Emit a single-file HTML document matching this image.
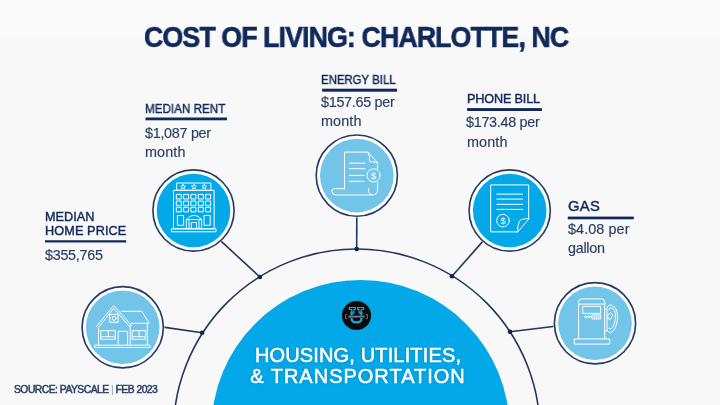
<!DOCTYPE html>
<html>
<head>
<meta charset="utf-8">
<style>
html,body{margin:0;padding:0;}
body{width:720px;height:405px;overflow:hidden;background:#fafafa;position:relative;font-family:"Liberation Sans",Arial,sans-serif;}
svg.g{position:absolute;left:0;top:0;}
.t{position:absolute;white-space:nowrap;line-height:1;will-change:transform;}
</style>
</head>
<body>
<div style="position:absolute;left:0;top:37px;width:720px;height:368px;background-color:#f8f8f8;"></div>
<svg class="g" width="720" height="405" viewBox="0 0 720 405">
<circle cx="360.5" cy="429" r="149" fill="#03a8e8"/>
<circle cx="356.7" cy="432.3" r="183.3" fill="none" stroke="#213760" stroke-width="1.6"/>
<g stroke="#213760" stroke-width="1.6" fill="none"><line x1="161.5" y1="326.9" x2="202.1" y2="332.8"/><line x1="220.5" y1="240.6" x2="259.9" y2="277.0"/><line x1="356.8" y1="215.5" x2="356.7" y2="249"/><line x1="483.2" y1="240.9" x2="452.0" y2="276.3"/><line x1="555.3" y1="326.2" x2="510.0" y2="331.8"/></g>
<g fill="#0f2447"><circle cx="202.1" cy="332.8" r="2.3"/><circle cx="259.9" cy="277.0" r="2.3"/><circle cx="356.7" cy="249" r="2.3"/><circle cx="452.0" cy="276.3" r="2.3"/><circle cx="510.0" cy="331.8" r="2.3"/></g>
<circle cx="122.7" cy="327.3" r="41.8" fill="#fff"/><circle cx="122.7" cy="327.3" r="40.6" fill="none" stroke="#253b66" stroke-width="1.65"/><circle cx="122.7" cy="327.3" r="36.8" fill="#72c4e8"/>
<g fill="none" stroke="#fff" stroke-width="1" stroke-linejoin="round" stroke-linecap="round">
<path d="M96.5 326.5 L113.7 305.5 L131.5 325.5"/>
<path d="M98.5 327.5 L113.7 308.5 L129.5 326.5"/>
<path d="M121.5 311.3 L141.8 311.3 L149.3 323.3 L131 323.3"/>
<path d="M98.5 327 V345.2 M147.3 323.5 V345.2 M130.2 325.5 V345.2"/>
<rect x="95.2" y="345.2" width="54.8" height="2.3"/>
<rect x="101.2" y="330.6" width="14" height="8.8"/>
<path d="M101.2 336.8 H115.2 M108.2 330.6 V336.8"/>
<rect x="132.6" y="330.6" width="13" height="8.8"/>
<path d="M132.6 336.8 H145.6 M139.1 330.6 V336.8"/>
<path d="M118.2 345.2 V331.3 H127.6 V345.2"/>
<rect x="110.1" y="314.3" width="8" height="8"/>
<circle cx="114.1" cy="318.3" r="2"/>
</g>
<circle cx="193.5" cy="210.5" r="41.8" fill="#fff"/><circle cx="193.5" cy="210.5" r="40.6" fill="none" stroke="#253b66" stroke-width="1.65"/><circle cx="193.5" cy="210.5" r="36.8" fill="#03a8e8"/>
<g fill="none" stroke="#fff" stroke-width="1" stroke-linejoin="round" stroke-linecap="round">
<rect x="177.1" y="183" width="33.8" height="7.3"/>
<rect x="173.9" y="190.3" width="40.2" height="38.5"/>
<rect x="176.7" y="194.4" width="4.6" height="4.6"/><rect x="184.0" y="194.4" width="4.6" height="4.6"/><rect x="191.3" y="194.4" width="4.6" height="4.6"/><rect x="198.7" y="194.4" width="4.6" height="4.6"/><rect x="206.0" y="194.4" width="4.6" height="4.6"/><rect x="176.7" y="201.0" width="4.6" height="4.6"/><rect x="184.0" y="201.0" width="4.6" height="4.6"/><rect x="191.3" y="201.0" width="4.6" height="4.6"/><rect x="198.7" y="201.0" width="4.6" height="4.6"/><rect x="206.0" y="201.0" width="4.6" height="4.6"/><rect x="176.7" y="207.3" width="4.6" height="4.6"/><rect x="184.0" y="207.3" width="4.6" height="4.6"/><rect x="191.3" y="207.3" width="4.6" height="4.6"/><rect x="198.7" y="207.3" width="4.6" height="4.6"/><rect x="206.0" y="207.3" width="4.6" height="4.6"/>
<rect x="177.8" y="215.5" width="5.8" height="9.8"/>
<rect x="204.4" y="215.5" width="5.8" height="9.8"/>
<path d="M186.3 228.8 V219.5 Q194 211 201.6 219.5 V228.8"/>
<path d="M186.3 219.5 H201.6 M189 219.5 V228.8 M199 219.5 V228.8 M191.3 228.8 V222.5 H196.6 V228.8"/>
<rect x="171.8" y="228.8" width="44.2" height="3"/>
<g stroke-width="0.8"><polygon points="183.10,184.30 183.75,186.01 185.57,186.10 184.15,187.24 184.63,189.00 183.10,188.00 181.57,189.00 182.05,187.24 180.63,186.10 182.45,186.01"/><polygon points="193.90,184.30 194.55,186.01 196.37,186.10 194.95,187.24 195.43,189.00 193.90,188.00 192.37,189.00 192.85,187.24 191.43,186.10 193.25,186.01"/><polygon points="204.30,184.30 204.95,186.01 206.77,186.10 205.35,187.24 205.83,189.00 204.30,188.00 202.77,189.00 203.25,187.24 201.83,186.10 203.65,186.01"/></g>
</g>
<circle cx="356.8" cy="175.6" r="41.8" fill="#fff"/><circle cx="356.8" cy="175.6" r="40.6" fill="none" stroke="#253b66" stroke-width="1.65"/><circle cx="356.8" cy="175.6" r="36.8" fill="#72c4e8"/>
<g fill="none" stroke="#fff" stroke-width="1" stroke-linejoin="round" stroke-linecap="round" stroke-width="1.1">
<path d="M344.5 188.7 V152.1 H368 L377.6 162.8 V168.6"/>
<path d="M368 152.1 Q370.2 157.5 369.6 161.6 Q374 161.4 377.6 162.8"/>
<path d="M377.6 182.2 V189.5 Q377.6 195 372 195 H336 Q332 195 331.8 191 Q331.8 188.7 333.5 188.7 H344.5"/>
<path d="M372 195 Q368.5 194 368.5 191.5 V188.7"/>
<path d="M349.4 163.1 H365 M349.4 168.7 H365 M349.4 175.4 H364 M349.4 181.3 H364"/>
<circle cx="373.6" cy="175.4" r="6.6"/>
</g>
<text x="373.6" y="178.6" fill="#fff" font-family="Liberation Sans" font-size="9" text-anchor="middle">$</text>
<circle cx="509.7" cy="210.5" r="41.8" fill="#fff"/><circle cx="509.7" cy="210.5" r="40.6" fill="none" stroke="#253b66" stroke-width="1.65"/><circle cx="509.7" cy="210.5" r="36.8" fill="#03a8e8"/>
<g fill="none" stroke="#fff" stroke-width="1" stroke-linejoin="round" stroke-linecap="round" stroke-width="1.1">
<path d="M517.5 231.9 H490.7 V184.9 H528.7 V218.6 Z"/>
<path d="M528.7 218.6 Q521 218.6 519.5 221 Q517.5 225 517.5 231.9"/>
<path d="M496.8 194.1 H522.6 M496.8 199.1 H522.6 M496.8 204.3 H522.6 M496.8 209.4 H522.6"/>
<circle cx="503" cy="220.6" r="6.3"/>
</g>
<text x="503" y="223.8" fill="#fff" font-family="Liberation Sans" font-size="9" text-anchor="middle">$</text>
<circle cx="595.0" cy="323.3" r="41.8" fill="#fff"/><circle cx="595.0" cy="323.3" r="40.6" fill="none" stroke="#253b66" stroke-width="1.65"/><circle cx="595.0" cy="323.3" r="36.8" fill="#72c4e8"/>
<g fill="none" stroke="#fff" stroke-width="1" stroke-linejoin="round" stroke-linecap="round">
<path d="M578.6 338.9 V302 Q578.6 298.9 581.6 298.9 H601.7 Q604.7 298.9 604.7 302 V338.9"/>
<path d="M578.6 304.1 H604.7"/>
<rect x="583.1" y="306.3" width="17.5" height="7.1"/>
<circle cx="585.7" cy="316.8" r="1"/>
<circle cx="588.9" cy="316.8" r="1"/>
<rect x="592.2" y="315" width="8.4" height="3.9"/>
<path d="M594.3 315 V318.9 M596.4 315 V318.9 M598.5 315 V318.9 M592.2 317 H600.6" stroke-width="0.6"/>
<rect x="574.6" y="338.9" width="35.1" height="5.2"/>
<path d="M604.7 309 H607 V331 H604.7"/>
<path d="M607 308 Q608 304 611 305 Q617 307 617.5 315 Q617.8 326 613 331 Q610 334 607.5 331"/>
<path d="M608.5 310 Q610 307 612.5 308 Q615.5 310 615.5 316 Q615.2 325 611.5 328.5 Q609.5 330 608.5 328"/>
<path d="M608 315 L610.5 312.5 L612.5 315 L611 319 L608.5 319 Z"/>
</g>

<circle cx="356.5" cy="315.5" r="14.6" fill="#0b0b0b"/>
<g fill="#16a6e2">
<path d="M348.7 306.9 H355.9 V310 H354.6 V313.8 H351.2 V310 H348.7 Z"/>
<path d="M357.1 306.9 H364.3 V310 H361.8 V313.8 H358.4 V310 H357.1 Z"/>
</g>
<g fill="#0b0b0b">
<path d="M350 308.1 H354.7 V308.9 H353.4 V312.8 H352.4 V308.9 H350 Z"/>
<path d="M358.3 308.1 H363 V308.9 H360.6 V312.8 H359.6 V308.9 H358.3 Z"/>
</g>
<path d="M351.6 311.5 V318.8 Q351.6 322.4 356.5 322.4 Q361.4 322.4 361.4 318.8 V311.5" fill="none" stroke="#16a6e2" stroke-width="2.2"/>
<rect x="345.6" y="315.4" width="21.8" height="2.6" fill="#0b0b0b"/>
<g fill="none" stroke="#7d7d80" stroke-width="0.9">
<path d="M347.2 314.6 H345.6 V318.6 H347.2 M365.8 314.6 H367.4 V318.6 H365.8"/>
<path d="M348.3 316.6 H364.7" stroke="#77787c" stroke-width="1.9"/>
</g>
<rect x="45" y="240.25" width="81.25" height="2.2" fill="#10285a"/><rect x="145.5" y="117.5" width="81.5" height="2.8" fill="#10285a"/><rect x="322.1" y="88.7" width="75" height="3" fill="#10285a"/><rect x="467.1" y="108.1" width="74.8" height="2.9" fill="#10285a"/><rect x="567.8" y="216.6" width="66" height="2.7" fill="#10285a"/>
</svg>
<div class="t" style="left:144.00px;top:22.21px;font-size:29.4px;font-weight:bold;letter-spacing:-1.0px;color:#10285a;-webkit-text-stroke:0.6px #10285a;transform:scaleX(0.911);transform-origin:0 0;">COST OF LIVING: CHARLOTTE, NC</div>
<div class="t" style="left:44.50px;top:210.75px;font-size:12.7px;font-weight:normal;letter-spacing:0px;color:#10285a;-webkit-text-stroke:0.42px #10285a;">MEDIAN</div>
<div class="t" style="left:44.50px;top:224.85px;font-size:12.7px;font-weight:normal;letter-spacing:0.1px;color:#10285a;-webkit-text-stroke:0.42px #10285a;">HOME PRICE</div>
<div class="t" style="left:145.00px;top:103.19px;font-size:12.3px;font-weight:normal;letter-spacing:0px;color:#10285a;-webkit-text-stroke:0.42px #10285a;transform:scaleX(0.948);transform-origin:0 0;">MEDIAN RENT</div>
<div class="t" style="left:321.30px;top:73.87px;font-size:12.2px;font-weight:normal;letter-spacing:0px;color:#10285a;-webkit-text-stroke:0.42px #10285a;transform:scaleX(0.935);transform-origin:0 0;">ENERGY BILL</div>
<div class="t" style="left:466.60px;top:93.29px;font-size:12.65px;font-weight:normal;letter-spacing:-0.15px;color:#10285a;-webkit-text-stroke:0.42px #10285a;">PHONE BILL</div>
<div class="t" style="left:568.00px;top:199.07px;font-size:14.8px;font-weight:normal;letter-spacing:0.3px;color:#10285a;-webkit-text-stroke:0.42px #10285a;">GAS</div>
<div class="t" style="left:44.60px;top:247.51px;font-size:14.4px;font-weight:normal;letter-spacing:-0.3px;color:#2a3c63;-webkit-text-stroke:0.15px #2a3c63;">$355,765</div>
<div class="t" style="left:144.60px;top:125.91px;font-size:14.4px;font-weight:normal;letter-spacing:-0.3px;color:#2a3c63;-webkit-text-stroke:0.15px #2a3c63;">$1,087 per</div>
<div class="t" style="left:145.20px;top:144.71px;font-size:14.4px;font-weight:normal;letter-spacing:0.1px;color:#2a3c63;-webkit-text-stroke:0.15px #2a3c63;">month</div>
<div class="t" style="left:320.90px;top:94.61px;font-size:14.4px;font-weight:normal;letter-spacing:-0.3px;color:#2a3c63;-webkit-text-stroke:0.15px #2a3c63;">$157.65 per</div>
<div class="t" style="left:321.40px;top:113.81px;font-size:14.4px;font-weight:normal;letter-spacing:0.1px;color:#2a3c63;-webkit-text-stroke:0.15px #2a3c63;">month</div>
<div class="t" style="left:466.40px;top:115.21px;font-size:14.4px;font-weight:normal;letter-spacing:-0.3px;color:#2a3c63;-webkit-text-stroke:0.15px #2a3c63;">$173.48 per</div>
<div class="t" style="left:467.00px;top:134.61px;font-size:14.4px;font-weight:normal;letter-spacing:0.1px;color:#2a3c63;-webkit-text-stroke:0.15px #2a3c63;">month</div>
<div class="t" style="left:567.60px;top:222.21px;font-size:14.4px;font-weight:normal;letter-spacing:0.08px;color:#2a3c63;-webkit-text-stroke:0.15px #2a3c63;">$4.08 per</div>
<div class="t" style="left:568.20px;top:241.41px;font-size:14.4px;font-weight:normal;letter-spacing:-0.3px;color:#2a3c63;-webkit-text-stroke:0.15px #2a3c63;">gallon</div>
<div class="t" style="left:14.30px;top:384.78px;font-size:10.3px;font-weight:normal;letter-spacing:-0.5px;color:#2c3e66;-webkit-text-stroke:0.5px #2c3e66;">SOURCE: PAYSCALE <span style="color:#8d99b3;-webkit-text-stroke:0">|</span> FEB 2023</div>
<div class="t" style="left:200px;width:316px;text-align:center;top:344.57px;font-size:20px;letter-spacing:0.15px;color:#fff;text-shadow:0 0 2.5px rgba(0,50,110,.45);-webkit-text-stroke:0.55px #fff;">HOUSING, UTILITIES,</div>
<div class="t" style="left:200px;width:316px;text-align:center;top:365.67px;font-size:20px;letter-spacing:1.0px;color:#fff;text-shadow:0 0 2.5px rgba(0,50,110,.45);-webkit-text-stroke:0.55px #fff;">&amp; TRANSPORTATION</div>

</body>
</html>
